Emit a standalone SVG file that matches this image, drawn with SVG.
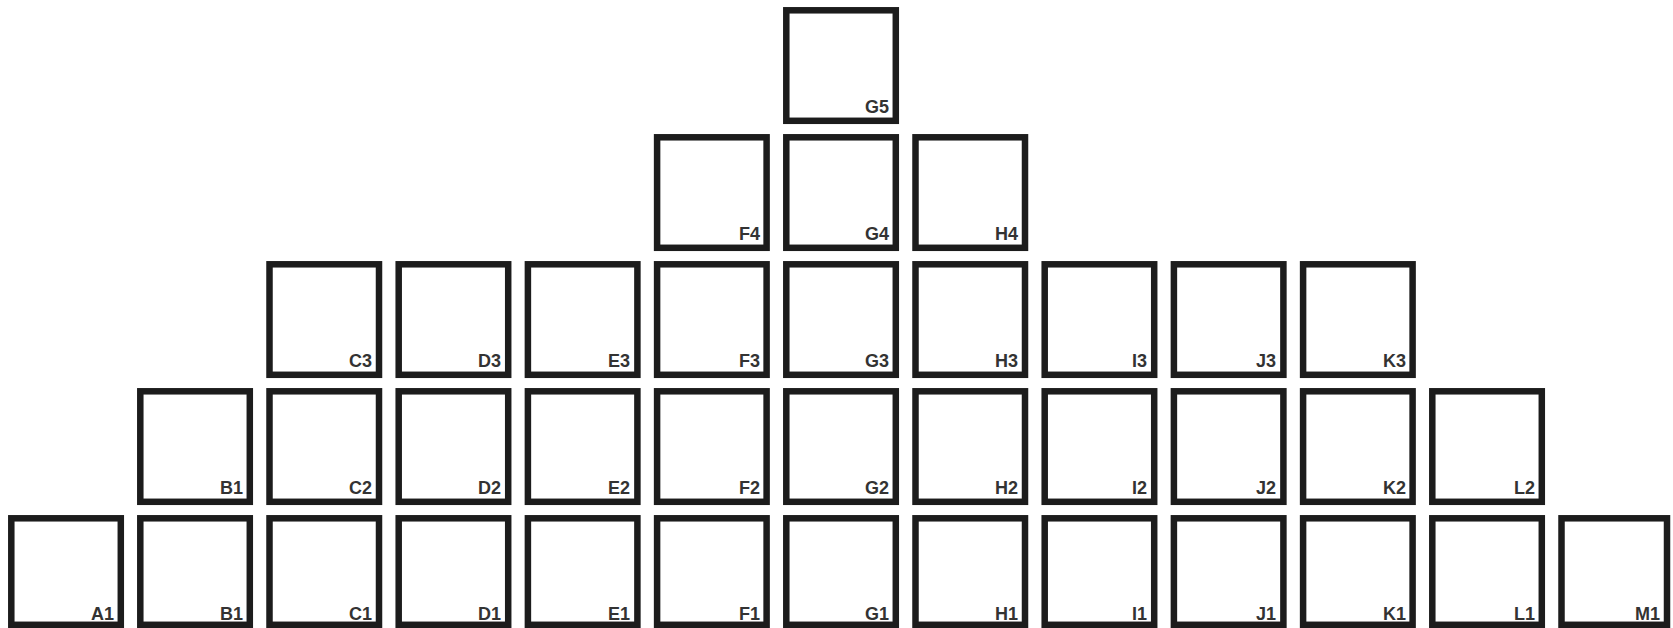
<svg xmlns="http://www.w3.org/2000/svg" width="1673" height="628" viewBox="0 0 1673 628">
<style>
.b{fill:#fff;stroke:#1c1c1c;stroke-width:6.5}
.t{font-family:"Liberation Sans",Arial,sans-serif;font-weight:bold;font-size:18px;fill:#333;text-anchor:end}
</style>
<rect width="1673" height="628" fill="#fff"/>
<g id="row5">
<g id="G5"><rect class="b" x="786.3" y="10.3" width="109.5" height="110.5"/><text class="t" x="889" y="113">G5</text></g>
</g>
<g id="row4">
<g id="F4"><rect class="b" x="657.1" y="137.3" width="109.5" height="110.5"/><text class="t" x="760" y="240">F4</text></g>
<g id="G4"><rect class="b" x="786.3" y="137.3" width="109.5" height="110.5"/><text class="t" x="889" y="240">G4</text></g>
<g id="H4"><rect class="b" x="915.5" y="137.3" width="109.5" height="110.5"/><text class="t" x="1018" y="240">H4</text></g>
</g>
<g id="row3">
<g id="C3"><rect class="b" x="269.5" y="264.3" width="109.5" height="110.5"/><text class="t" x="372" y="367">C3</text></g>
<g id="D3"><rect class="b" x="398.7" y="264.3" width="109.5" height="110.5"/><text class="t" x="501" y="367">D3</text></g>
<g id="E3"><rect class="b" x="527.9" y="264.3" width="109.5" height="110.5"/><text class="t" x="630" y="367">E3</text></g>
<g id="F3"><rect class="b" x="657.1" y="264.3" width="109.5" height="110.5"/><text class="t" x="760" y="367">F3</text></g>
<g id="G3"><rect class="b" x="786.3" y="264.3" width="109.5" height="110.5"/><text class="t" x="889" y="367">G3</text></g>
<g id="H3"><rect class="b" x="915.5" y="264.3" width="109.5" height="110.5"/><text class="t" x="1018" y="367">H3</text></g>
<g id="I3"><rect class="b" x="1044.7" y="264.3" width="109.5" height="110.5"/><text class="t" x="1147" y="367">I3</text></g>
<g id="J3"><rect class="b" x="1173.9" y="264.3" width="109.5" height="110.5"/><text class="t" x="1276" y="367">J3</text></g>
<g id="K3"><rect class="b" x="1303.1" y="264.3" width="109.5" height="110.5"/><text class="t" x="1406" y="367">K3</text></g>
</g>
<g id="row2">
<g id="B1-upper"><rect class="b" x="140.3" y="391.3" width="109.5" height="110.5"/><text class="t" x="243" y="494">B1</text></g>
<g id="C2"><rect class="b" x="269.5" y="391.3" width="109.5" height="110.5"/><text class="t" x="372" y="494">C2</text></g>
<g id="D2"><rect class="b" x="398.7" y="391.3" width="109.5" height="110.5"/><text class="t" x="501" y="494">D2</text></g>
<g id="E2"><rect class="b" x="527.9" y="391.3" width="109.5" height="110.5"/><text class="t" x="630" y="494">E2</text></g>
<g id="F2"><rect class="b" x="657.1" y="391.3" width="109.5" height="110.5"/><text class="t" x="760" y="494">F2</text></g>
<g id="G2"><rect class="b" x="786.3" y="391.3" width="109.5" height="110.5"/><text class="t" x="889" y="494">G2</text></g>
<g id="H2"><rect class="b" x="915.5" y="391.3" width="109.5" height="110.5"/><text class="t" x="1018" y="494">H2</text></g>
<g id="I2"><rect class="b" x="1044.7" y="391.3" width="109.5" height="110.5"/><text class="t" x="1147" y="494">I2</text></g>
<g id="J2"><rect class="b" x="1173.9" y="391.3" width="109.5" height="110.5"/><text class="t" x="1276" y="494">J2</text></g>
<g id="K2"><rect class="b" x="1303.1" y="391.3" width="109.5" height="110.5"/><text class="t" x="1406" y="494">K2</text></g>
<g id="L2"><rect class="b" x="1432.3" y="391.3" width="109.5" height="110.5"/><text class="t" x="1535" y="494">L2</text></g>
</g>
<g id="row1">
<g id="A1"><rect class="b" x="11.3" y="518.3" width="109.5" height="106.5"/><text class="t" x="114" y="619.5">A1</text></g>
<g id="B1"><rect class="b" x="140.3" y="518.3" width="109.5" height="106.5"/><text class="t" x="243" y="619.5">B1</text></g>
<g id="C1"><rect class="b" x="269.5" y="518.3" width="109.5" height="106.5"/><text class="t" x="372" y="619.5">C1</text></g>
<g id="D1"><rect class="b" x="398.7" y="518.3" width="109.5" height="106.5"/><text class="t" x="501" y="619.5">D1</text></g>
<g id="E1"><rect class="b" x="527.9" y="518.3" width="109.5" height="106.5"/><text class="t" x="630" y="619.5">E1</text></g>
<g id="F1"><rect class="b" x="657.1" y="518.3" width="109.5" height="106.5"/><text class="t" x="760" y="619.5">F1</text></g>
<g id="G1"><rect class="b" x="786.3" y="518.3" width="109.5" height="106.5"/><text class="t" x="889" y="619.5">G1</text></g>
<g id="H1"><rect class="b" x="915.5" y="518.3" width="109.5" height="106.5"/><text class="t" x="1018" y="619.5">H1</text></g>
<g id="I1"><rect class="b" x="1044.7" y="518.3" width="109.5" height="106.5"/><text class="t" x="1147" y="619.5">I1</text></g>
<g id="J1"><rect class="b" x="1173.9" y="518.3" width="109.5" height="106.5"/><text class="t" x="1276" y="619.5">J1</text></g>
<g id="K1"><rect class="b" x="1303.1" y="518.3" width="109.5" height="106.5"/><text class="t" x="1406" y="619.5">K1</text></g>
<g id="L1"><rect class="b" x="1432.3" y="518.3" width="109.5" height="106.5"/><text class="t" x="1535" y="619.5">L1</text></g>
<g id="M1"><rect class="b" x="1561.5" y="518.3" width="105.5" height="106.5"/><text class="t" x="1660" y="619.5">M1</text></g>
</g>
<g id="connectors"/>
</svg>
